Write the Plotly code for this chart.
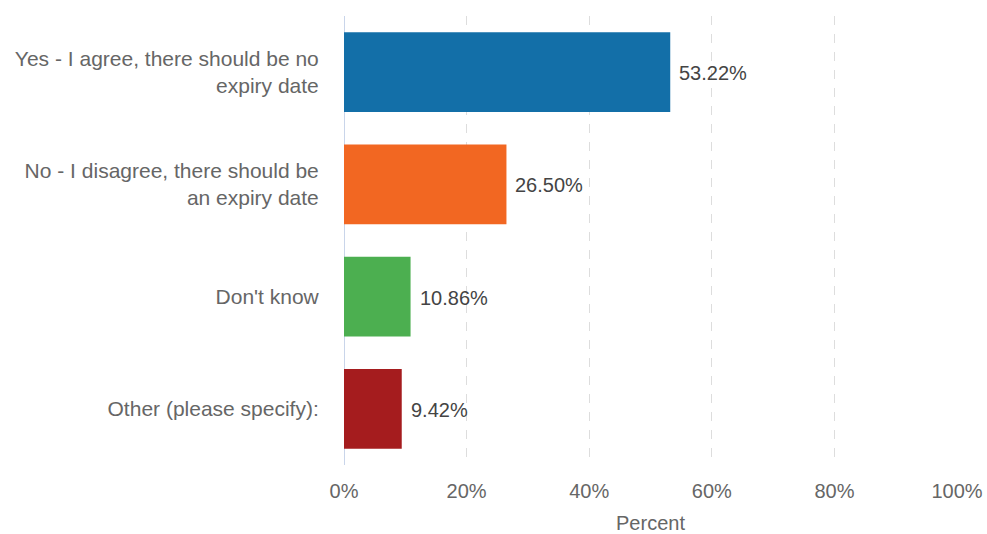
import plotly.graph_objects as go

# Survey responses and their shares (percent)
categories = [
    "Yes - I agree, there should be no<br>expiry date",
    "No - I disagree, there should be<br>an expiry date",
    "Don't know",
    "Other (please specify):",
]
percent = [53.22, 26.50, 10.86, 9.42]
bar_colors = ["#136fa8", "#f26722", "#4caf50", "#a51c1e"]
x_ticks = [0, 20, 40, 60, 80, 100]
x_tick_labels = ["0%", "20%", "40%", "60%", "80%", "100%"]

FONT = "Liberation Sans, Arial, sans-serif"

fig = go.Figure(
    go.Bar(
        x=percent,
        y=categories,
        orientation="h",
        marker=dict(color=bar_colors, line=dict(width=0)),
        width=0.71,
        hoverinfo="skip",
    )
)

# Value labels just to the right of each bar end
for cat, val in zip(categories, percent):
    fig.add_annotation(
        x=val, y=cat, xref="x", yref="y",
        text=f"{val:.2f}%",
        showarrow=False,
        xanchor="left", yanchor="middle",
        xshift=7, yshift=-1,
        font=dict(size=20, color="#444444", family=FONT),
    )

fig.update_layout(
    width=987,
    height=534,
    margin=dict(l=344, r=30, t=16, b=69),
    paper_bgcolor="white",
    plot_bgcolor="white",
    showlegend=False,
    font=dict(family=FONT, color="#666666", size=21),
    xaxis=dict(
        range=[0, 100],
        tickvals=x_ticks,
        ticktext=x_tick_labels,
        showgrid=True,
        gridcolor="#dddddd",
        griddash="dash",
        gridwidth=1,
        zeroline=False,
        showline=False,
        ticks="outside",
        ticklen=8,
        tickcolor="rgba(0,0,0,0)",
        tickfont=dict(size=20, color="#666666"),
        title=dict(text="Percent", font=dict(size=20, color="#666666"), standoff=16),
        automargin=False,
        fixedrange=True,
    ),
    yaxis=dict(
        autorange="reversed",
        showgrid=False,
        zeroline=False,
        showline=False,
        ticks="outside",
        ticklen=20,
        tickcolor="rgba(0,0,0,0)",
        tickfont=dict(size=21, color="#666666"),
        automargin=False,
        fixedrange=True,
    ),
)

# Vertical baseline at 0%
fig.add_shape(
    type="line", xref="x", yref="paper", x0=0, x1=0, y0=0, y1=1,
    line=dict(color="#c9d5ea", width=2), layer="below",
)

fig.write_html("out.html")
